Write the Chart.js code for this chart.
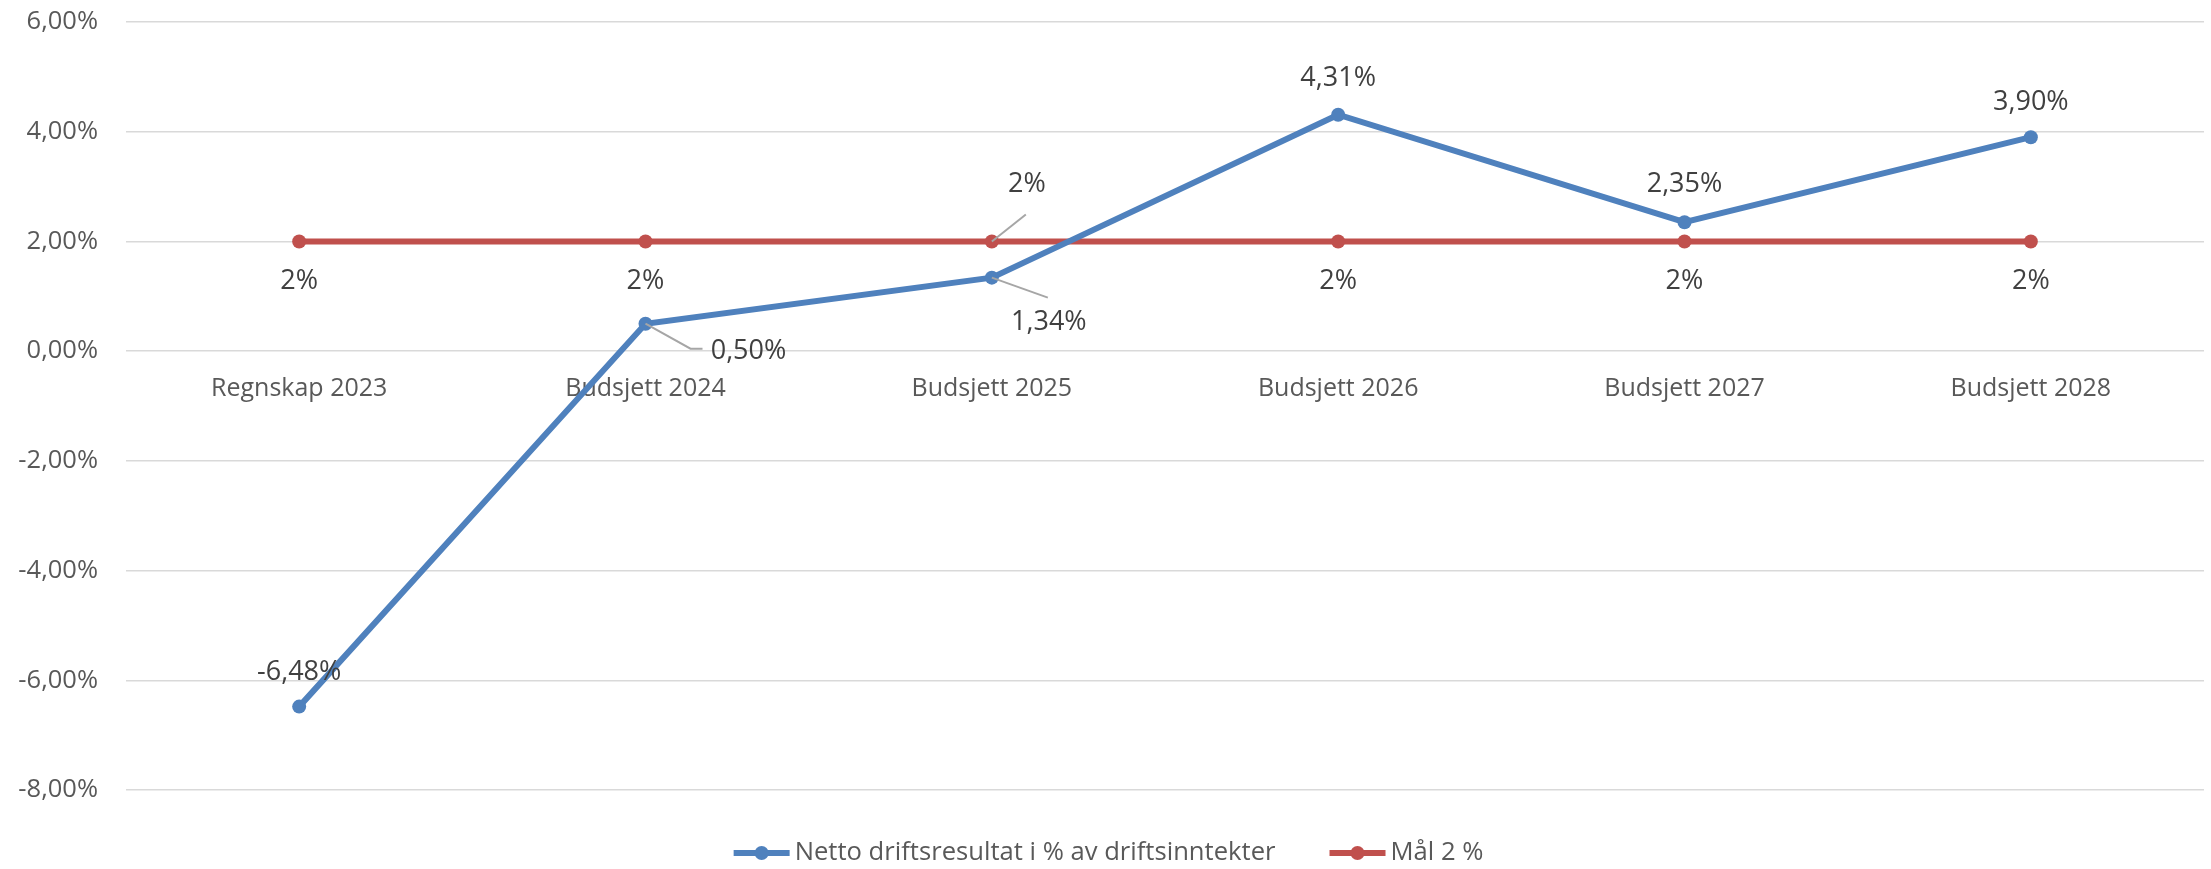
<!DOCTYPE html>
<html>
<head>
<meta charset="utf-8">
<script src="https://cdn.jsdelivr.net/npm/chart.js@4.4.1/dist/chart.umd.min.js"></script>
<style>
	html, body { margin: 0; padding: 0; background: #fff; }
</style>
</head>
<body>
<canvas id="chart" width="2211" height="869"></canvas>
<script>
const categories = [ 'Regnskap 2023', 'Budsjett 2024', 'Budsjett 2025', 'Budsjett 2026', 'Budsjett 2027', 'Budsjett 2028' ];
const nettoValues = [ -6.48, 0.50, 1.34, 4.31, 2.35, 3.90 ];
const maalValues = [ 2, 2, 2, 2, 2, 2 ];
const seriesNames = [ 'Netto driftsresultat i % av driftsinntekter', 'Mål 2 %' ];
const yTicks = [ 6, 4, 2, 0, -2, -4, -6, -8 ];

// Where each data label sits relative to its point (Excel moved a few of them by hand).
const nettoLabelPos = [
	{ dx: 0, dy: -34 },
	{ dx: 103, dy: 28, leader: [ [ 45, 25 ], [ 57, 25 ] ] },
	{ dx: 57, dy: 45, leader: [ [ 56, 20 ] ] },
	{ dx: 0, dy: -36 },
	{ dx: 0, dy: -38 },
	{ dx: 0, dy: -35 }
];
const maalLabelPos = [
	{ dx: 0, dy: 40 },
	{ dx: 0, dy: 40 },
	{ dx: 35, dy: -57, leader: [ [ 34, -27 ] ] },
	{ dx: 0, dy: 40 },
	{ dx: 0, dy: 40 },
	{ dx: 0, dy: 40 }
];

const BLUE = '#4F81BD',
	RED = '#C0504D',
	FONT = '"Open Sans", "Noto Sans", sans-serif';

function pct( val, decimals ) {
	return val.toFixed( decimals ).replace( '.', ',' ) + '%';
}

const excelLabels = {
	id: 'excelLabels',
	beforeDatasetsDraw( chart ) {
		// Category labels sit just under the zero line, like Excel does.
		const ctx = chart.ctx,
			xs = chart.scales.x,
			zeroY = chart.scales.y.getPixelForValue( 0 );
		ctx.save();
		ctx.font = '25px ' + FONT;
		ctx.fillStyle = '#595959';
		ctx.textAlign = 'center';
		ctx.textBaseline = 'middle';
		categories.forEach( function ( c, i ) {
			ctx.fillText( c, xs.getPixelForValue( i ), zeroY + 38 );
		} );
		ctx.restore();
	},
	afterDatasetsDraw( chart ) {
		const ctx = chart.ctx,
			placements = [ nettoLabelPos, maalLabelPos ];
		ctx.save();
		ctx.font = '27px ' + FONT;
		ctx.fillStyle = '#404040';
		ctx.strokeStyle = '#A6A6A6';
		ctx.lineWidth = 2;
		ctx.textAlign = 'center';
		ctx.textBaseline = 'middle';
		chart.data.datasets.forEach( function ( ds, di ) {
			const meta = chart.getDatasetMeta( di );
			meta.data.forEach( function ( pt, i ) {
				const p = placements[ di ][ i ];
				if ( p.leader ) {
					ctx.beginPath();
					ctx.moveTo( pt.x, pt.y );
					p.leader.forEach( function ( l ) {
						ctx.lineTo( pt.x + l[ 0 ], pt.y + l[ 1 ] );
					} );
					ctx.stroke();
				}
				ctx.fillText( pct( ds.data[ i ], ds.labelDecimals ), pt.x + p.dx, pt.y + p.dy );
			} );
		} );
		ctx.restore();
	},
	afterDraw( chart ) {
		// Legend: line marker with a dot in the middle.
		const ctx = chart.ctx,
			markerW = 56,
			gapText = 5,
			gapItem = 54,
			sx = 0.985,
			y = chart.height - 16;
		ctx.save();
		ctx.font = '26px ' + FONT;
		ctx.textBaseline = 'middle';
		const items = chart.data.datasets.map( function ( ds ) {
			return { color: ds.borderColor, text: ds.label, w: ctx.measureText( ds.label ).width * sx };
		} );
		let total = gapItem * ( items.length - 1 );
		items.forEach( function ( it ) {
			total += markerW + gapText + it.w;
		} );
		let x = chart.width / 2 - total / 2 + 3;
		items.forEach( function ( it ) {
			ctx.strokeStyle = it.color;
			ctx.fillStyle = it.color;
			ctx.lineWidth = 6;
			ctx.beginPath();
			ctx.moveTo( x, y );
			ctx.lineTo( x + markerW, y );
			ctx.stroke();
			ctx.beginPath();
			ctx.arc( x + markerW / 2, y, 7, 0, Math.PI * 2 );
			ctx.fill();
			ctx.save();
			ctx.translate( x + markerW + gapText, y );
			ctx.scale( sx, 1 );
			ctx.fillStyle = '#595959';
			ctx.fillText( it.text, 0, 0 );
			ctx.restore();
			x += markerW + gapText + it.w + gapItem;
		} );
		ctx.restore();
	}
};

new Chart( 'chart', {
	type: 'line',
	data: {
		labels: categories,
		datasets: [ {
			label: seriesNames[ 0 ],
			data: nettoValues,
			borderColor: BLUE,
			backgroundColor: BLUE,
			borderWidth: 6,
			pointRadius: 7,
			pointHoverRadius: 7,
			pointBorderWidth: 0,
			labelDecimals: 2,
			order: 0
		}, {
			label: seriesNames[ 1 ],
			data: maalValues,
			borderColor: RED,
			backgroundColor: RED,
			borderWidth: 6,
			pointRadius: 7,
			pointHoverRadius: 7,
			pointBorderWidth: 0,
			labelDecimals: 0,
			order: 1
		} ]
	},
	options: {
		responsive: false,
		animation: false,
		events: [],
		layout: {
			padding: { left: 0, top: 22, right: 4, bottom: 79 }
		},
		plugins: {
			legend: { display: false },
			tooltip: { enabled: false }
		},
		scales: {
			x: {
				display: false,
				offset: true
			},
			y: {
				min: Math.min.apply( null, yTicks ),
				max: Math.max.apply( null, yTicks ),
				afterBuildTicks: function ( scale ) {
					scale.ticks = yTicks.slice().reverse().map( function ( v ) {
						return { value: v };
					} );
				},
				afterFit: function ( scale ) {
					// Fixed axis width; the layout padding alone decides top and bottom.
					scale.width = 126;
					scale.paddingTop = 0;
					scale.paddingBottom = 0;
				},
				border: { display: false },
				grid: {
					color: '#D9D9D9',
					lineWidth: 1.5,
					drawTicks: false
				},
				ticks: {
					padding: 28,
					color: '#595959',
					font: { family: FONT, size: 25.5 },
					callback: function ( v ) {
						return pct( v, 2 );
					}
				}
			}
		}
	},
	plugins: [ excelLabels ]
} );
</script>
</body>
</html>
